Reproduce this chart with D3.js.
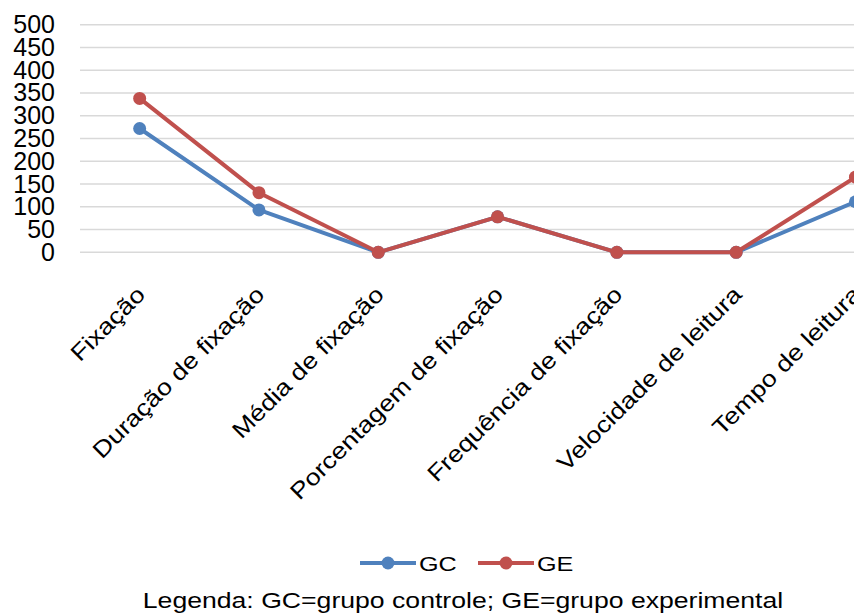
<!DOCTYPE html>
<html>
<head>
<meta charset="utf-8">
<script src="https://cdn.jsdelivr.net/npm/d3@7/dist/d3.min.js"></script>
<style>
  html, body { margin: 0; padding: 0; background: #fff; overflow: hidden; }
  svg { display: block; font-family: "Liberation Sans", Arial, sans-serif; }
</style>
</head>
<body>
<svg id="chart" width="854" height="615"></svg>
<script>
// Eye-tracking measures per group
const categories = [
  "Fixação",
  "Duração de fixação",
  "Média de fixação",
  "Porcentagem de fixação",
  "Frequência de fixação",
  "Velocidade de leitura",
  "Tempo de leitura"
];
const gcValues = [272, 93, 0, 78, 0, 0, 111];
const geValues = [338, 131, 0, 78, 0, 0, 165];
const yTicks = [0, 50, 100, 150, 200, 250, 300, 350, 400, 450, 500];
const seriesNames = ["GC", "GE"];
const caption = "Legenda: GC=grupo controle; GE=grupo experimental";

const colors = { GC: "#4F81BD", GE: "#C0504D" };
const svg = d3.select("#chart");

const plotLeft = 80, step = 119.3;
const x = d3.scalePoint()
  .domain(categories)
  .range([plotLeft, plotLeft + step * categories.length])
  .padding(0.5);
const y = d3.scaleLinear().domain([0, 500]).range([252.3, 24.7]);

// horizontal gridlines
svg.append("g")
  .selectAll("line")
  .data(yTicks)
  .join("line")
  .attr("x1", plotLeft)
  .attr("x2", 854)
  .attr("y1", d => y(d))
  .attr("y2", d => y(d))
  .attr("stroke", "#d9d9d9")
  .attr("stroke-width", 1.5);

// y axis labels
const yAxis = d3.axisLeft(y).tickValues(yTicks).tickSize(0).tickPadding(0);
const gy = svg.append("g").attr("transform", "translate(55,0)").call(yAxis);
gy.select(".domain").remove();
gy.selectAll("text")
  .attr("font-size", 25)
  .attr("font-family", "Liberation Sans, Arial, sans-serif")
  .attr("fill", "#000");

// category labels, rotated and slightly widened
svg.append("g")
  .selectAll("text")
  .data(categories)
  .join("text")
  .attr("transform", d => `translate(${x(d) + 7},296) rotate(-45) scale(1.17,1)`)
  .attr("text-anchor", "end")
  .attr("font-size", 23)
  .attr("fill", "#000")
  .text(d => d);

// series lines and markers
const line = d3.line().x((d, i) => x(categories[i])).y(d => y(d));
const series = [
  { name: "GC", values: gcValues },
  { name: "GE", values: geValues }
];
series.forEach(s => {
  const g = svg.append("g");
  g.append("path")
    .datum(s.values)
    .attr("d", line)
    .attr("fill", "none")
    .attr("stroke", colors[s.name])
    .attr("stroke-width", 4)
    .attr("stroke-linejoin", "round");
  g.selectAll("circle")
    .data(s.values)
    .join("circle")
    .attr("cx", (d, i) => x(categories[i]))
    .attr("cy", d => y(d))
    .attr("r", 6.5)
    .attr("fill", colors[s.name]);
});

// legend
const legendItems = [{ name: "GC", x0: 360 }, { name: "GE", x0: 478 }];
const lg = svg.append("g");
legendItems.forEach(it => {
  lg.append("line")
    .attr("x1", it.x0).attr("x2", it.x0 + 56)
    .attr("y1", 563).attr("y2", 563)
    .attr("stroke", colors[it.name]).attr("stroke-width", 4);
  lg.append("circle")
    .attr("cx", it.x0 + 28).attr("cy", 563).attr("r", 6.5)
    .attr("fill", colors[it.name]);
  lg.append("text")
    .attr("transform", `translate(${it.x0 + 59},571) scale(1.2,1)`)
    .attr("font-size", 21)
    .attr("fill", "#000")
    .text(it.name);
});

// caption
svg.append("text")
  .attr("transform", "translate(463,608) scale(1.21,1)")
  .attr("text-anchor", "middle")
  .attr("font-size", 22)
  .attr("fill", "#000")
  .text(caption);
</script>
</body>
</html>
